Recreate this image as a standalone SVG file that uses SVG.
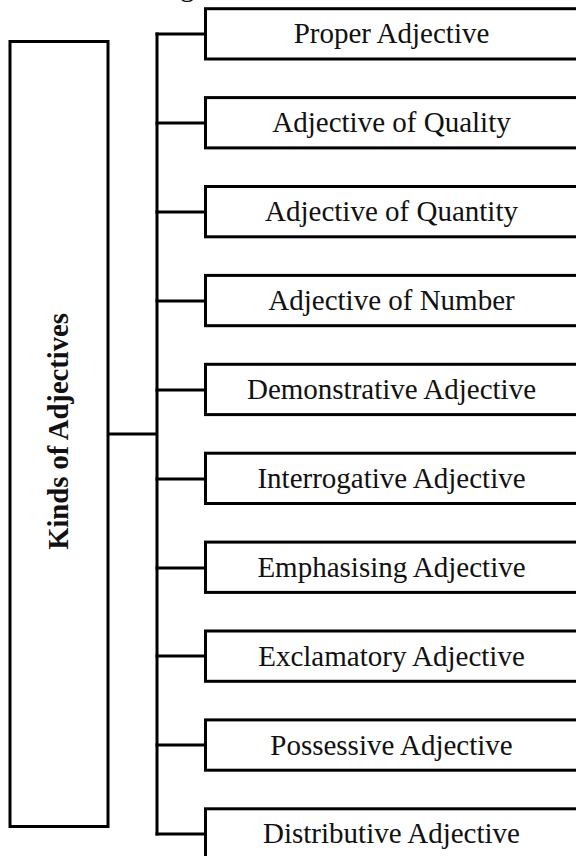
<svg xmlns="http://www.w3.org/2000/svg" width="576" height="856" viewBox="0 0 576 856">
<style>
.box{fill:#fff;stroke:#000;stroke-width:3}
.lbl{font-family:"Liberation Serif","Times New Roman",serif;font-size:29px;fill:#111;text-anchor:middle}
.title{font-family:"Liberation Serif","Times New Roman",serif;font-size:28.6px;font-weight:bold;fill:#111;text-anchor:middle}
.conn{fill:none;stroke:#000;stroke-width:3;stroke-linecap:square}
</style>
<rect width="576" height="856" fill="#fff"/>
<text x="180" y="-4" style="font-family:'Liberation Serif',serif;font-size:29px;fill:#111">g</text>
<g id="connectors">
<path class="conn" d="M108 434 H157 M157 34 V834"/>
<path class="conn" d="M157 34 H205.5 M157 123 H205.5 M157 212 H205.5 M157 301 H205.5 M157 390 H205.5 M157 479 H205.5 M157 568 H205.5 M157 656 H205.5 M157 745 H205.5 M157 834 H205.5"/>
</g>
<g id="root"><rect class="box" x="10" y="41.5" width="98" height="785"/><text class="title" transform="translate(68,431.5) rotate(-90)">Kinds of Adjectives</text></g>
<g id="n1"><rect class="box" x="205.5" y="8.7" width="372" height="50.3"/><text class="lbl" x="391.5" y="43.3">Proper Adjective</text></g>
<g id="n2"><rect class="box" x="205.5" y="97.6" width="372" height="50.3"/><text class="lbl" x="391.5" y="132.2">Adjective of Quality</text></g>
<g id="n3"><rect class="box" x="205.5" y="186.5" width="372" height="50.3"/><text class="lbl" x="391.5" y="221.1">Adjective of Quantity</text></g>
<g id="n4"><rect class="box" x="205.5" y="275.4" width="372" height="50.3"/><text class="lbl" x="391.5" y="310">Adjective of Number</text></g>
<g id="n5"><rect class="box" x="205.5" y="364.3" width="372" height="50.3"/><text class="lbl" x="391.5" y="398.9">Demonstrative Adjective</text></g>
<g id="n6"><rect class="box" x="205.5" y="453.2" width="372" height="50.3"/><text class="lbl" x="391.5" y="487.8">Interrogative Adjective</text></g>
<g id="n7"><rect class="box" x="205.5" y="542.1" width="372" height="50.3"/><text class="lbl" x="391.5" y="576.7">Emphasising Adjective</text></g>
<g id="n8"><rect class="box" x="205.5" y="631" width="372" height="50.3"/><text class="lbl" x="391.5" y="665.6">Exclamatory Adjective</text></g>
<g id="n9"><rect class="box" x="205.5" y="719.9" width="372" height="50.3"/><text class="lbl" x="391.5" y="754.5">Possessive Adjective</text></g>
<g id="n10"><rect class="box" x="205.5" y="808.8" width="372" height="50.3"/><text class="lbl" x="391.5" y="843.4">Distributive Adjective</text></g>
</svg>
